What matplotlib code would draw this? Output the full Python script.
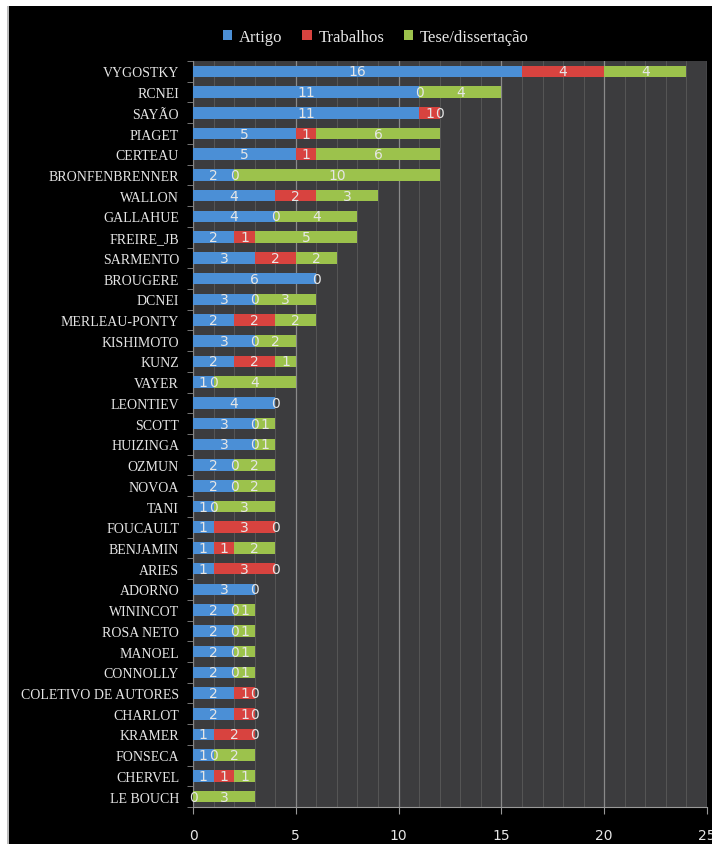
import numpy as np
import matplotlib
matplotlib.use("Agg")
import matplotlib.pyplot as plt
from matplotlib.patches import Rectangle

authors = ["VYGOSTKY", "RCNEI", "SAYÃO", "PIAGET", "CERTEAU", "BRONFENBRENNER",
           "WALLON", "GALLAHUE", "FREIRE_JB", "SARMENTO", "BROUGERE", "DCNEI",
           "MERLEAU-PONTY", "KISHIMOTO", "KUNZ", "VAYER", "LEONTIEV", "SCOTT",
           "HUIZINGA", "OZMUN", "NOVOA", "TANI", "FOUCAULT", "BENJAMIN", "ARIES",
           "ADORNO", "WININCOT", "ROSA NETO", "MANOEL", "CONNOLLY",
           "COLETIVO DE AUTORES", "CHARLOT", "KRAMER", "FONSECA", "CHERVEL",
           "LE BOUCH"]
# None = no value recorded (no label drawn)
artigo = [16, 11, 11, 5, 5, 2, 4, 4, 2, 3, 6, 3, 2, 3, 2, 1, 4, 3, 3, 2, 2, 1,
          1, 1, 1, 3, 2, 2, 2, 2, 2, 2, 1, 1, 1, 0]
trabalhos = [4, 0, 1, 1, 1, 0, 2, 0, 1, 2, 0, 0, 2, 0, 2, 0, 0, 0, 0, 0, 0, 0,
             3, 1, 3, 0, 0, 0, 0, 0, 1, 1, 2, 0, 1, None]
tese = [4, 4, 0, 6, 6, 10, 3, 4, 5, 2, None, 3, 2, 2, 1, 4, None, 1, 1, 2, 2, 3,
        0, 2, 0, None, 1, 1, 1, 1, 0, 0, 0, 2, 1, 3]
series = ["Artigo", "Trabalhos", "Tese/dissertação"]
colors = ["#4b8fd6", "#d8433f", "#9cc24c"]

TXT = "#e6e6e6"
SERIF = ["Liberation Serif", "DejaVu Serif"]

fig = plt.figure(figsize=(7.12, 8.45), dpi=100, facecolor="black")
# thin white margin at top/left of the black panel
fig.patches.append(Rectangle((0, 1 - 7 / 845), 1, 7 / 845, transform=fig.transFigure,
                             facecolor="white", edgecolor="none", zorder=-1))
fig.patches.append(Rectangle((0, 0), 8 / 712, 1, transform=fig.transFigure,
                             facecolor="white", edgecolor="none", zorder=-1))
fig.patches.append(Rectangle((7 / 712, 0), 1.5 / 712, 1 - 7 / 845, transform=fig.transFigure,
                             facecolor="#bbbbbb", edgecolor="none", zorder=-1))

ax = fig.add_axes([193 / 712, 1 - 808 / 845, (707 - 193) / 712, (808 - 62) / 845])
ax.set_facecolor("#3c3c3e")

y = np.arange(len(authors))
left = np.zeros(len(authors))
for vals, col, name in zip([artigo, trabalhos, tese], colors, series):
    w = np.array([0 if v is None else v for v in vals], dtype=float)
    ax.barh(y, w, left=left, height=0.56, color=col, edgecolor="none", label=name,
            zorder=3)
    for i, v in enumerate(vals):
        if v is None:
            continue
        ax.text(left[i] + w[i] / 2, y[i], str(v), ha="center", va="center",
                color=TXT, fontsize=10, zorder=4)
    left += w

ax.set_xlim(0, 25)
ax.set_ylim(len(authors) - 0.5, -0.5)
ax.set_xticks(range(0, 26, 5))
ax.set_xticks(range(0, 26), minor=True)
ax.grid(axis="x", which="major", color="#8a8a8a", lw=0.9, zorder=1)
ax.grid(axis="x", which="minor", color="#5a5a5a", lw=0.6, zorder=1)
ax.set_axisbelow(True)

ax.set_yticks(y)
ax.set_yticklabels(authors, family=SERIF, fontsize=10, color=TXT)
ax.set_yticks(np.arange(len(authors) + 1) - 0.5, minor=True)
ax.tick_params(axis="y", which="major", length=0, pad=10)
ax.tick_params(axis="y", which="minor", length=4, color="#888888", direction="out")
ax.tick_params(axis="x", which="major", length=5, color="#999999", labelcolor=TXT,
               labelsize=10, pad=10)
ax.tick_params(axis="x", which="minor", length=0)
for s in ["top", "right"]:
    ax.spines[s].set_visible(False)
ax.spines["left"].set_color("#888888")
ax.spines["bottom"].set_color("#999999")

leg = fig.legend(loc="center", bbox_to_anchor=(376 / 712, 1 - 38 / 845), ncol=3,
                 frameon=False, handlelength=0.55, handleheight=0.55,
                 handletextpad=0.4, columnspacing=1.2,
                 prop={"family": SERIF, "size": 12})
for t in leg.get_texts():
    t.set_color(TXT)

fig.savefig("out.png", dpi=100, facecolor=fig.get_facecolor())
